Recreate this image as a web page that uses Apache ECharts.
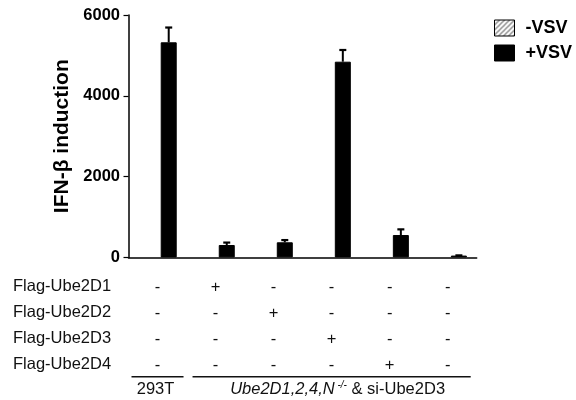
<!DOCTYPE html>
<html>
<head>
<meta charset="utf-8">
<script src="https://cdn.jsdelivr.net/npm/echarts@6/dist/echarts.min.js"></script>
<style>
html,body{margin:0;padding:0;background:#fff;}
#chart{width:576px;height:400px;}
</style>
</head>
<body>
<div id="chart"></div>
<script>
// ---- data ----
const categories = ['293T', 'Ube2D1', 'Ube2D2', 'Ube2D3', 'Ube2D4', 'none'];
const minusVSV = [0, 0, 0, 0, 0, 0];
const plusVSV = [5324, 307, 374, 4844, 554, 45];
const plusVSVErr = [366, 60, 55, 290, 140, 5];
const yTicks = [0, 2000, 4000, 6000];
const rowLabels = ['Flag-Ube2D1', 'Flag-Ube2D2', 'Flag-Ube2D3', 'Flag-Ube2D4'];
const rowSigns = [
  ['-', '+', '-', '-', '-', '-'],
  ['-', '-', '+', '-', '-', '-'],
  ['-', '-', '-', '+', '-', '-'],
  ['-', '-', '-', '-', '+', '-']
];
const seriesNames = ['-VSV', '+VSV'];
const yName = 'IFN-β induction';

// ---- style constants ----
const FONT = '"Liberation Sans", Arial, sans-serif';
const BAR_W = 16;
const BAR_GAP = 0.4;

// hatch pattern
const pc = document.createElement('canvas');
pc.width = 5; pc.height = 5;
const pctx = pc.getContext('2d');
pctx.fillStyle = '#fff';
pctx.fillRect(0, 0, 5, 5);
pctx.strokeStyle = '#8a8a8a';
pctx.lineWidth = 1.4;
pctx.beginPath();
pctx.moveTo(0, 5); pctx.lineTo(5, 0);
pctx.moveTo(-1, 1); pctx.lineTo(1, -1);
pctx.moveTo(4, 6); pctx.lineTo(6, 4);
pctx.stroke();
const hatch = {image: pc, repeat: 'repeat'};

const chart = echarts.init(document.getElementById('chart'), null, {renderer: 'canvas'});

const option = {
  animation: false,
  backgroundColor: '#fff',
  grid: {left: 128.5, right: 99.3, top: 15, bottom: 142.6, containLabel: false},
  legend: {
    orient: 'vertical',
    left: 494,
    top: 19,
    itemWidth: 20,
    itemHeight: 16,
    itemGap: 7,
    padding: 0,
    icon: 'rect',
    data: [
      {name: seriesNames[0], itemStyle: {color: hatch, borderColor: '#000', borderWidth: 1}},
      {name: seriesNames[1], itemStyle: {color: '#000', borderColor: '#000', borderWidth: 1}}
    ],
    textStyle: {fontFamily: FONT, fontWeight: 'bold', fontSize: 18, color: '#000', lineHeight: 18, padding: [0, 0, 0, 6]}
  },
  xAxis: {
    type: 'category',
    data: categories,
    axisLine: {lineStyle: {color: '#000', width: 1.5}},
    axisTick: {alignWithLabel: true, length: 4, lineStyle: {color: '#000', width: 1.2}},
    axisLabel: {show: false},
    splitLine: {show: false}
  },
  yAxis: {
    type: 'value',
    min: yTicks[0],
    max: yTicks[yTicks.length - 1],
    interval: yTicks[1] - yTicks[0],
    name: yName,
    nameLocation: 'middle',
    nameRotate: 90,
    nameGap: 55,
    nameTextStyle: {fontFamily: FONT, fontWeight: 'bold', fontSize: 21, color: '#000'},
    axisLine: {show: true, lineStyle: {color: '#000', width: 1.5}},
    axisTick: {show: true, length: 5, lineStyle: {color: '#000', width: 1.2}},
    axisLabel: {fontFamily: FONT, fontWeight: 'bold', fontSize: 16.5, color: '#000', margin: 8.5,
      formatter: function (v) { return String(v); }},
    splitLine: {show: false}
  },
  series: [
    {
      name: seriesNames[0], type: 'bar', data: minusVSV,
      barWidth: BAR_W, barGap: (BAR_GAP * 100) + '%',
      itemStyle: {color: hatch, borderWidth: 0}
    },
    {
      name: seriesNames[1], type: 'bar', data: plusVSV,
      barWidth: BAR_W, barGap: (BAR_GAP * 100) + '%',
      itemStyle: {color: '#000', borderColor: '#000', borderWidth: 1}
    },
    {
      type: 'custom',
      name: 'err',
      data: plusVSV.map((v, i) => [i, v, plusVSVErr[i]]),
      z: 1,
      renderItem: function (params, api) {
        const i = api.value(0), v = api.value(1), e = api.value(2);
        const off = BAR_W * (1 + BAR_GAP) / 2;
        const base = api.coord([i, v]);
        const top = api.coord([i, v + e]);
        const x = base[0] + off;
        return {
          type: 'group',
          children: [
            {type: 'line', shape: {x1: x, y1: base[1], x2: x, y2: top[1]}, style: {stroke: '#000', lineWidth: 2}},
            {type: 'line', shape: {x1: x - 3.5, y1: top[1], x2: x + 3.5, y2: top[1]}, style: {stroke: '#000', lineWidth: 2.2}}
          ]
        };
      }
    }
  ]
};
chart.setOption(option);

// ---- condition table below the axis ----
const px = categories.map((c, i) => chart.convertToPixel({xAxisIndex: 0}, i));
const catW = px[1] - px[0];
const rowY = [287, 313, 339, 365];
const g = [];
rowLabels.forEach((lab, r) => {
  g.push({type: 'text', left: 13, top: rowY[r] - 9,
    style: {text: lab, font: '16.5px ' + FONT, fill: '#111', textVerticalAlign: 'top'}});
  rowSigns[r].forEach((s, c) => {
    g.push({type: 'text', x: px[c], y: rowY[r],
      style: {text: s, font: '16.5px ' + FONT, fill: '#111', textAlign: 'center', textVerticalAlign: 'middle'}});
  });
});
const lineY = 376.7;
g.push({type: 'line', shape: {x1: px[0] - catW / 2 + 3, y1: lineY, x2: px[0] + catW / 2 - 3, y2: lineY}, style: {stroke: '#111', lineWidth: 1.6}});
g.push({type: 'line', shape: {x1: px[1] - catW / 2 + 6, y1: lineY, x2: px[5] + catW / 2 - 6, y2: lineY}, style: {stroke: '#111', lineWidth: 1.6}});
g.push({type: 'text', x: px[0] - 2, y: 389,
  style: {text: '293T', font: '16.5px ' + FONT, fill: '#111', textAlign: 'center', textVerticalAlign: 'middle'}});
g.push({type: 'text', x: (px[1] + px[5]) / 2 + 6, y: 389,
  style: {
    text: '{i|Ube2D1,2,4,N}{s| -/-}{n| & si-Ube2D3}',
    textAlign: 'center', textVerticalAlign: 'middle',
    rich: {
      i: {fontFamily: FONT, fontSize: 16.5, fontStyle: 'italic', fill: '#111'},
      s: {fontFamily: FONT, fontSize: 10, fontStyle: 'italic', fill: '#111', verticalAlign: 'top', padding: [0, 0, 8, 0]},
      n: {fontFamily: FONT, fontSize: 16.5, fill: '#111'}
    }
  }});
chart.setOption({graphic: {elements: g}});
</script>
</body>
</html>
